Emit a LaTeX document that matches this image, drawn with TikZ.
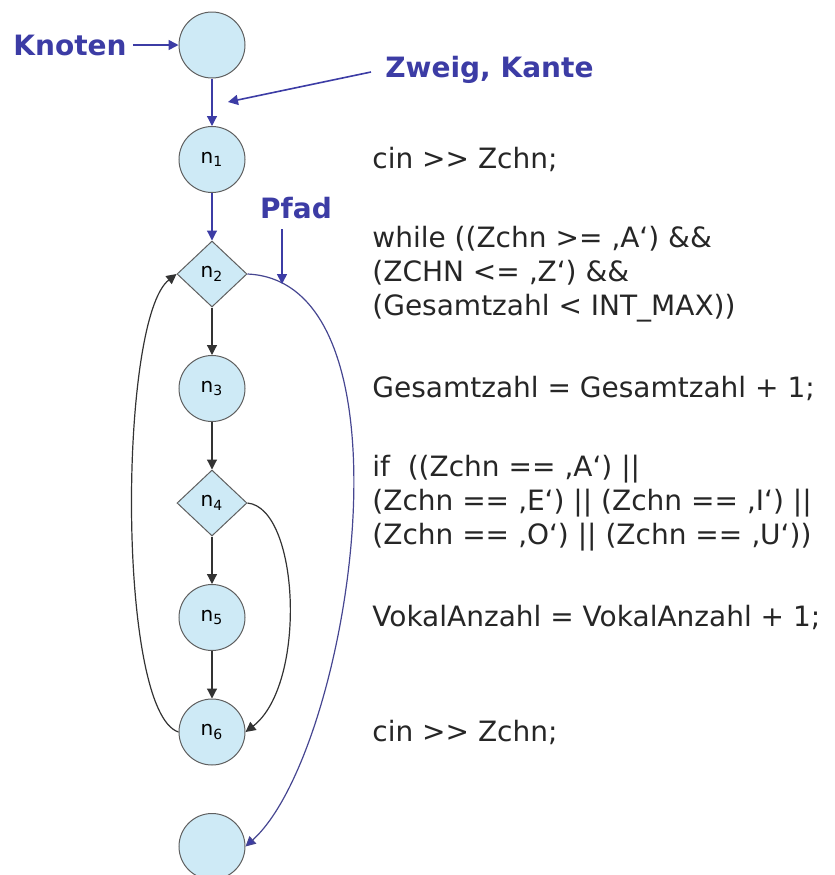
\documentclass[tikz,border=0pt]{standalone}
\usepackage{fontspec}
\setmainfont{DejaVu Sans}
\usetikzlibrary{positioning,arrows.meta,shapes.geometric}
\definecolor{nodefill}{RGB}{206,234,246}
\definecolor{nodeline}{RGB}{95,95,95}
\definecolor{labelblue}{RGB}{60,60,165}
\definecolor{pathblue}{RGB}{70,70,145}

\begin{document}
\begin{tikzpicture}[
    x=0.5pt, y=-0.5pt,
    node distance=23.75pt,
    every node/.style={font=\fontsize{10}{12}\selectfont},
    knoten/.style={
        circle,
        draw=nodeline,
        fill=nodefill,
        line width=0.5pt,
        minimum size=33pt,
        inner sep=0pt
    },
    verzweigung/.style={
        diamond,
        draw=nodeline,
        fill=nodefill,
        line width=0.5pt,
        minimum width=35pt,
        minimum height=33pt,
        inner sep=0pt
    },
    beschriftung/.style={
        font=\fontsize{14}{17}\selectfont\bfseries,
        text=labelblue,
        inner sep=0pt
    },
    code/.style={
        font=\fontsize{14}{17}\selectfont,
        text=black!85,
        align=left,
        anchor=west,
        inner sep=0pt
    },
    kante/.style={
        line width=0.6pt,
        draw=black!80,
        -{Triangle[length=5pt,width=5pt]}
    },
    blaukante/.style={
        line width=0.6pt,
        draw=labelblue,
        -{Triangle[length=5pt,width=5pt]}
    },
    pfadkante/.style={
        line width=0.6pt,
        draw=pathblue,
        -{Triangle[length=5pt,width=5pt,fill=labelblue]}
    },
    hinweis/.style={
        line width=0.8pt,
        draw=labelblue,
        -{Triangle[length=5pt,width=5pt]}
    }
]
\useasboundingbox (0,0) rectangle (835,875);

% Kontrollflussgraph
\node[knoten] (start) at (212,45) {};
\node[knoten, below=of start] (n1) {n\textsubscript{1}};
\node[verzweigung, below=of n1] (n2) {n\textsubscript{2}};
\node[knoten, below=of n2] (n3) {n\textsubscript{3}};
\node[verzweigung, below=of n3] (n4) {n\textsubscript{4}};
\node[knoten, below=of n4] (n5) {n\textsubscript{5}};
\node[knoten, below=of n5] (n6) {n\textsubscript{6}};
\node[knoten, below=of n6] (ende) {};

\draw[blaukante] (start) -- (n1);
\draw[blaukante] (n1) -- (n2);
\draw[kante] (n2) -- (n3);
\draw[kante] (n3) -- (n4);
\draw[kante] (n4) -- (n5);
\draw[kante] (n5) -- (n6);

% Rueckspruenge und Pfad
\draw[kante] (n6.west) .. controls +(-62,-20) and +(-58,45) .. (n2.west);
\draw[kante] (n4.east) .. controls +(52,5) and +(62,-48) .. (n6.east);
\draw[pfadkante] (n2.east) .. controls +(175,8) and +(105,-95) .. (ende.east);

% Begriffe
\node[beschriftung, anchor=west] (knotenlabel) at (13,45) {Knoten};
\node[beschriftung, anchor=west] (zweiglabel) at (385,70) {Zweig, Kante};
\node[beschriftung] (pfadlabel) at (296,208) {Pfad};
\coordinate (zweigspitze) at (228,102);
\coordinate (pfadspitze) at (282,284);

\draw[hinweis] ([xshift=3pt]knotenlabel.east) -- (start.west);
\draw[hinweis] ([xshift=-7pt,yshift=-1pt]zweiglabel.west) -- (zweigspitze);
\draw[hinweis] ([yshift=-5pt]pfadlabel.south -| pfadspitze) -- (pfadspitze);

% Quelltext
\coordinate (codex) at (372,0);
\node[code] (c1) at (codex |- n1) {cin >{}> Zchn;};
\node[code] (c2) at (codex |- n2) {while ((Zchn >= ‚A‘) \&\&\\(ZCHN <= ‚Z‘) \&\&\\(Gesamtzahl < INT\_MAX))};
\node[code] (c3) at (codex |- n3) {Gesamtzahl = Gesamtzahl + 1;};
\node[code] (c4) at (codex |- n4) {if\ \ ((Zchn == ‚A‘) ||\\(Zchn == ‚E‘) || (Zchn == ‚I‘) ||\\(Zchn == ‚O‘) || (Zchn == ‚U‘))};
\node[code] (c5) at (codex |- n5) {VokalAnzahl = VokalAnzahl + 1;};
\node[code] (c6) at (codex |- n6) {cin >{}> Zchn;};

\end{tikzpicture}
\end{document}
